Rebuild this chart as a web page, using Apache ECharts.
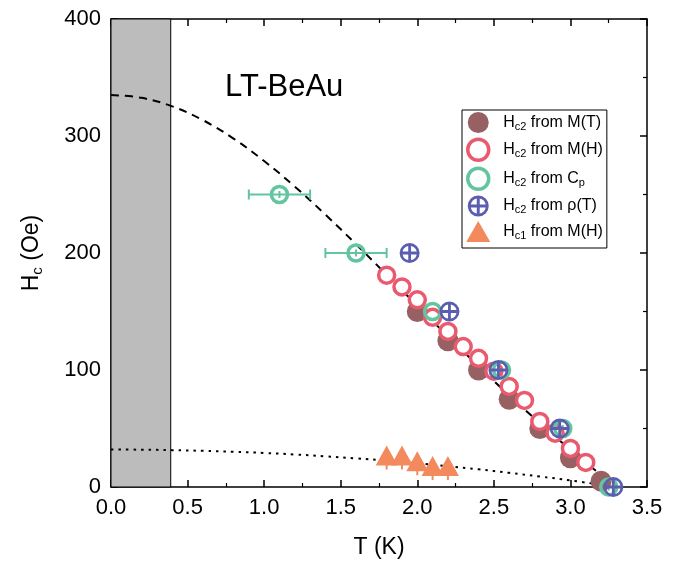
<!DOCTYPE html>
<html><head><meta charset="utf-8">
<script src="https://cdn.jsdelivr.net/npm/echarts@6/dist/echarts.min.js"></script>
<style>html,body{margin:0;padding:0;background:#fff}#c{width:681px;height:569px}</style>
</head><body><div id="c"></div>
<script>
// ---- data ----
const mtT = [2.0, 2.2, 2.4, 2.6, 2.8, 3.0, 3.2];
const mtH = [150, 125, 100, 75, 50, 25, 5];
const mhT = [1.8, 1.9, 2.0, 2.1, 2.2, 2.3, 2.4, 2.5, 2.6, 2.7, 2.8, 2.9, 3.0, 3.1];
const mhH = [181, 171, 160, 145, 133, 120, 110, 99, 86, 74, 56, 46, 33, 21];
const cpT = [1.1, 1.6, 2.1, 2.55, 2.95, 3.25];
const cpH = [250, 200, 150, 100, 50, 0];
const cpXErr = [0.2, 0.2, 0, 0, 0, 0];
const cpYErr = [3, 3, 3, 3, 3, 3];
const rhoT = [1.95, 2.21, 2.53, 2.93, 3.28];
const rhoH = [200, 150, 100, 50, 0];
const hc1T = [1.8, 1.9, 2.0, 2.1, 2.2];
const hc1H = [27, 27, 22, 18, 18];
const hc1YErrLow = [12, 12, 12, 12, 12];
const fitHc2T = [0, 0.2, 0.4, 0.6, 0.8, 1.0, 1.2, 1.4, 1.6, 1.8, 2.0, 2.2, 2.4, 2.6, 2.8, 3.0, 3.2];
const fitHc2H = [335, 332.6, 325.3, 313.6, 297.8, 278.6, 256.8, 232.8, 207.5, 181.4, 155.0, 128.8, 103.2, 78.4, 54.6, 31.8, 10.3];
const fitHc1T = [0, 0.2, 0.4, 0.6, 0.8, 1.0, 1.2, 1.4, 1.6, 1.8, 2.0, 2.2, 2.4, 2.6, 2.8, 3.0, 3.2];
const fitHc1H = [32, 31.9, 31.5, 30.9, 30.1, 29.1, 27.8, 26.2, 24.5, 22.5, 20.2, 17.8, 15.1, 12.1, 9.0, 5.6, 1.9];
const shadeT = [0, 0.39];
const xTickLabels = ['0.0', '0.5', '1.0', '1.5', '2.0', '2.5', '3.0', '3.5'];
const yTickLabels = ['0', '100', '200', '300', '400'];
const names = ['Hc2 from M(T)', 'Hc2 from M(H)', 'Hc2 from Cp', 'Hc2 from ρ(T)', 'Hc1 from M(H)'];
const legendRich = {
  'Hc2 from M(T)': '{g| }{h|H}{s|c2}{h| from M(T)}',
  'Hc2 from M(H)': '{g| }{h|H}{s|c2}{h| from M(H)}',
  'Hc2 from Cp': '{g| }{h|H}{s|c2}{h| from C}{s|p}',
  'Hc2 from ρ(T)': '{g| }{h|H}{s|c2}{h| from ρ(T)}',
  'Hc1 from M(H)': '{g| }{h|H}{s|c1}{h| from M(H)}'
};

const FONT = 'Liberation Sans, Arial, Helvetica, sans-serif';
const cBrown = '#976062', cRed = '#ea5a6e', cGreen = '#62c5a0', cBlue = '#5b5eaf', cOrange = '#f28a5e';
const plusCircle = 'path://M50,0A50,50,0,1,1,50,100A50,50,0,1,1,50,0Z M57,43L85.31,43A36,36,0,0,0,57,14.69Z M43,43L43,14.69A36,36,0,0,0,14.69,43Z M43,57L14.69,57A36,36,0,0,0,43,85.31Z M57,57L57,85.31A36,36,0,0,0,85.31,57Z';

function zip(a, b) { return a.map((v, i) => [v, b[i]]); }

// error bars: [x, y, xErr, yErrUp, yErrDown]
function errSeries(name, xs, ys, xe, yUp, yDown, color, cap) {
  return {
    name: name, type: 'custom', silent: true,
    data: xs.map((x, i) => [x, ys[i], xe[i], yUp[i], yDown[i]]),
    renderItem: function (params, api) {
      const x = api.value(0), y = api.value(1), dx = api.value(2), du = api.value(3), dd = api.value(4);
      const ch = [];
      const st = { stroke: color, lineWidth: 2 };
      if (dx > 0) {
        const a = api.coord([x - dx, y]), b = api.coord([x + dx, y]);
        ch.push({ type: 'line', shape: { x1: a[0], y1: a[1], x2: b[0], y2: b[1] }, style: st });
        if (cap) {
          ch.push({ type: 'line', shape: { x1: a[0], y1: a[1] - cap, x2: a[0], y2: a[1] + cap }, style: st });
          ch.push({ type: 'line', shape: { x1: b[0], y1: b[1] - cap, x2: b[0], y2: b[1] + cap }, style: st });
        }
      }
      if (du > 0 || dd > 0) {
        const a = api.coord([x, y - dd]), b = api.coord([x, y + du]);
        ch.push({ type: 'line', shape: { x1: a[0], y1: a[1], x2: b[0], y2: b[1] }, style: st });
      }
      return { type: 'group', children: ch };
    }
  };
}

const axisCommon = {
  axisLine: { show: true, onZero: false, lineStyle: { color: '#000', width: 1.5 } },
  axisTick: { show: true, inside: true, length: 7, lineStyle: { color: '#000', width: 1.5 } },
  minorTick: { show: true, splitNumber: 2, length: 4, lineStyle: { color: '#000', width: 1.2 } },
  splitLine: { show: false }
};

const chart = echarts.init(document.getElementById('c'), null, { renderer: 'canvas' });
chart.setOption({
  animation: false,
  backgroundColor: '#fff',
  grid: { left: 111, top: 19, width: 536, height: 468 },
  xAxis: [
    Object.assign({
      type: 'value', min: 0, max: 3.5, interval: 0.5, position: 'bottom',
      name: 'T (K)', nameLocation: 'middle', nameGap: 49,
      nameTextStyle: { fontFamily: FONT, fontSize: 23, color: '#000' },
      axisLabel: { color: '#000', fontFamily: FONT, fontSize: 22, margin: 10,
        formatter: v => xTickLabels[Math.round(v / 0.5)] }
    }, axisCommon),
    Object.assign({
      type: 'value', min: 0, max: 3.5, interval: 0.5, position: 'top',
      axisLabel: { show: false }
    }, axisCommon)
  ],
  yAxis: [
    Object.assign({
      type: 'value', min: 0, max: 400, interval: 100, position: 'left',
      name: '{a|H}{s|c}{a| (Oe)}', nameLocation: 'middle', nameGap: 66, nameRotate: 90,
      nameTextStyle: { color: '#000', rich: {
        a: { fontFamily: FONT, fontSize: 23, color: '#000' },
        s: { fontFamily: FONT, fontSize: 15, color: '#000', padding: [12, 0, 0, 0] } } },
      axisLabel: { color: '#000', fontFamily: FONT, fontSize: 22, margin: 10,
        formatter: v => yTickLabels[Math.round(v / 100)] }
    }, axisCommon),
    Object.assign({
      type: 'value', min: 0, max: 400, interval: 100, position: 'right',
      axisLabel: { show: false }
    }, axisCommon)
  ],
  legend: {
    data: names,
    orient: 'vertical', left: 462, top: 110,
    padding: [2, 4, 6, 4],
    itemWidth: 24, itemHeight: 21, itemGap: 4.5,
    borderColor: '#000', borderWidth: 1, backgroundColor: '#fff',
    selectedMode: false,
    itemStyle: { borderWidth: 'inherit' },
    formatter: n => legendRich[n],
    textStyle: { color: '#000', rich: {
      g: { width: 8, fontSize: 16 },
      h: { fontFamily: FONT, fontSize: 16, color: '#000' },
      s: { fontFamily: FONT, fontSize: 11, color: '#000', padding: [8, 0, 0, 0] } } }
  },
  graphic: [{
    type: 'text', left: 225, top: 72,
    style: { text: 'LT-BeAu', font: '31px ' + FONT, fill: '#000' }
  }],
  series: [
    {
      name: 'fitHc2', type: 'line', data: zip(fitHc2T, fitHc2H), showSymbol: false, smooth: 0.4,
      lineStyle: { color: '#000', width: 2, type: [8, 6] }, silent: true, z: 1,
      markArea: { silent: true, itemStyle: { color: '#bcbcbc', borderColor: '#000', borderWidth: 1 },
        data: [[{ xAxis: shadeT[0], yAxis: 0 }, { xAxis: shadeT[1], yAxis: 400 }]] }
    },
    {
      name: 'fitHc1', type: 'line', data: zip(fitHc1T, fitHc1H), showSymbol: false, smooth: 0.4,
      lineStyle: { color: '#000', width: 2, type: [2.5, 5] }, silent: true, z: 1
    },
    { name: names[0], type: 'scatter', data: zip(mtT, mtH), symbol: 'circle', symbolSize: 21,
      itemStyle: { color: cBrown, opacity: 1 }, z: 3 },
    { name: names[1], type: 'scatter', data: zip(mhT, mhH), symbol: 'circle', symbolSize: 16,
      itemStyle: { color: '#fff', borderColor: cRed, borderWidth: 3.5, opacity: 1 }, z: 3 },
    Object.assign(errSeries('cpErr', cpT, cpH, cpXErr, cpYErr, cpYErr, cGreen, 5), { z: 3 }),
    { name: names[2], type: 'scatter', data: zip(cpT, cpH), symbol: 'circle', symbolSize: 16,
      itemStyle: { color: 'rgba(255,255,255,0)', borderColor: cGreen, borderWidth: 3.5, opacity: 1 }, z: 3 },
    { name: names[3], type: 'scatter', data: zip(rhoT, rhoH), symbol: plusCircle, symbolSize: 20,
      itemStyle: { color: cBlue, opacity: 1 }, z: 3 },
    Object.assign(errSeries('hc1Err', hc1T, hc1H, [0, 0, 0, 0, 0], [0, 0, 0, 0, 0], hc1YErrLow, cOrange, 0), { z: 3 }),
    { name: names[4], type: 'scatter', data: zip(hc1T, hc1H), symbol: 'triangle', symbolSize: [22, 20],
      itemStyle: { color: cOrange, opacity: 1 }, z: 3 }
  ]
});
</script>
</body></html>
